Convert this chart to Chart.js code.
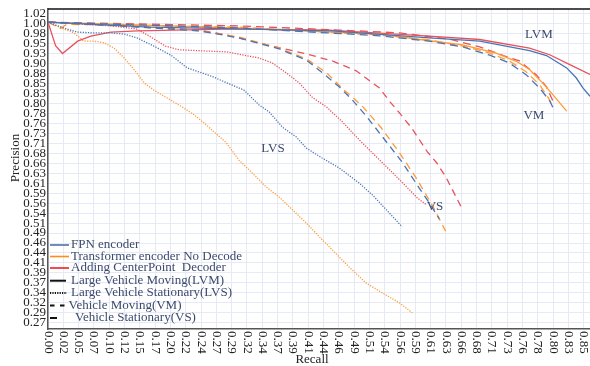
<!DOCTYPE html>
<html>
<head>
<meta charset="utf-8">
<script src="https://cdn.jsdelivr.net/npm/chart.js@4.4.0/dist/chart.umd.min.js"></script>
<style>
  html, body { margin: 0; padding: 0; background: #fff; }
  #wrap { width: 590px; height: 366px; }
</style>
</head>
<body>
<div id="wrap"><canvas id="myChart" width="590" height="366"></canvas></div>
<script>
// tick labels as printed on the axes
const recallTicks = ['0.00','0.02','0.05','0.07','0.10','0.12','0.15','0.17','0.20','0.22','0.24','0.27',
  '0.29','0.32','0.34','0.37','0.39','0.41','0.44','0.46','0.49','0.51','0.54','0.56','0.59','0.61',
  '0.63','0.66','0.68','0.71','0.73','0.76','0.78','0.80','0.83','0.85'];
const precisionTicks = ['0.27','0.29','0.32','0.34','0.37','0.39','0.41','0.44','0.46','0.49','0.51',
  '0.54','0.56','0.59','0.61','0.63','0.66','0.68','0.71','0.73','0.76','0.78','0.80','0.83','0.85',
  '0.88','0.90','0.93','0.95','0.98','1.00','1.02'];

const models = ['FPN encoder', 'Transformer encoder No Decode', 'Adding CenterPoint  Decoder'];
const classes = ['Large Vehicle Moving(LVM)', 'Large Vehicle Stationary(LVS)', 'Vehicle Moving(VM)', 'Vehicle Stationary(VS)'];

// [recall, precision]
const fpnLVM = [[0,1.00],[0.16,0.988],[0.30,0.984],[0.45,0.979],[0.605,0.962],[0.685,0.954],[0.764,0.931],
  [0.791,0.919],[0.823,0.889],[0.838,0.865],[0.849,0.840],[0.86,0.820],[0.87,0.79]];
const transLVM = [[0,1.00],[0.30,0.986],[0.526,0.971],[0.605,0.955],[0.658,0.945],[0.711,0.925],[0.743,0.905],
  [0.764,0.885],[0.785,0.852],[0.801,0.824],[0.823,0.784]];
const cpLVM = [[0,1.00],[0.012,0.943],[0.023,0.924],[0.047,0.954],[0.068,0.966],[0.10,0.976],[0.142,0.979],
  [0.30,0.984],[0.446,0.981],[0.605,0.966],[0.685,0.958],[0.764,0.937],[0.796,0.921],[0.828,0.897],
  [0.86,0.873],[0.87,0.862]];

const fpnLVS = [[0,1.00],[0.025,0.986],[0.046,0.976],[0.073,0.974],[0.10,0.974],[0.121,0.971],[0.141,0.962],
  [0.168,0.942],[0.195,0.920],[0.221,0.889],[0.259,0.869],[0.291,0.848],[0.311,0.835],[0.335,0.799],
  [0.351,0.782],[0.372,0.745],[0.394,0.721],[0.41,0.694],[0.435,0.670],[0.462,0.646],[0.494,0.609],
  [0.515,0.580],[0.537,0.544],[0.562,0.503]];
const transLVS = [[0,1.00],[0.021,0.986],[0.041,0.974],[0.057,0.954],[0.073,0.954],[0.089,0.950],[0.105,0.937],
  [0.121,0.913],[0.137,0.884],[0.153,0.852],[0.168,0.835],[0.189,0.816],[0.211,0.796],[0.232,0.775],
  [0.253,0.748],[0.283,0.707],[0.303,0.665],[0.324,0.634],[0.346,0.600],[0.367,0.575],[0.388,0.544],
  [0.41,0.512],[0.431,0.478],[0.451,0.447],[0.478,0.405],[0.505,0.366],[0.531,0.342],[0.558,0.318],[0.578,0.294]];
const cpLVS = [[0,1.00],[0.10,0.991],[0.14,0.984],[0.16,0.967],[0.186,0.942],[0.208,0.933],[0.251,0.930],
  [0.283,0.928],[0.311,0.920],[0.335,0.913],[0.356,0.901],[0.378,0.877],[0.399,0.852],[0.419,0.818],
  [0.442,0.794],[0.467,0.758],[0.494,0.714],[0.521,0.673],[0.547,0.634],[0.569,0.600],[0.586,0.573],[0.601,0.556]];

const fpnVM = [[0,1.00],[0.303,0.986],[0.526,0.967],[0.605,0.954],[0.658,0.940],[0.701,0.920],[0.732,0.901],
  [0.759,0.872],[0.78,0.840],[0.796,0.809],[0.804,0.784]];
const transVM = [[0,1.00],[0.02,0.985],[0.03,0.995],[0.303,0.988],[0.526,0.969],[0.605,0.957],[0.658,0.942],
  [0.701,0.925],[0.732,0.906],[0.759,0.879],[0.78,0.848],[0.794,0.816],[0.801,0.796]];
const cpVM = [[0,1.00],[0.303,0.991],[0.462,0.981],[0.558,0.974],[0.637,0.959],[0.685,0.940],[0.724,0.918],
  [0.748,0.906],[0.775,0.872],[0.791,0.843],[0.799,0.816],[0.804,0.799]];

const fpnVS = [[0,1.00],[0.113,0.991],[0.24,0.979],[0.303,0.962],[0.367,0.935],[0.41,0.908],[0.442,0.869],
  [0.462,0.843],[0.483,0.811],[0.505,0.772],[0.531,0.721],[0.562,0.660],[0.589,0.597],[0.605,0.561],[0.621,0.522]];
const transVS = [[0,1.00],[0.113,0.991],[0.24,0.979],[0.303,0.964],[0.367,0.937],[0.41,0.911],[0.442,0.877],
  [0.47,0.835],[0.497,0.799],[0.529,0.743],[0.558,0.682],[0.584,0.622],[0.611,0.552],[0.634,0.483]];
const cpVS = [[0,1.00],[0.113,0.993],[0.24,0.981],[0.283,0.969],[0.315,0.957],[0.356,0.942],[0.41,0.923],
  [0.451,0.906],[0.489,0.882],[0.526,0.840],[0.543,0.806],[0.558,0.779],[0.577,0.743],[0.602,0.685],
  [0.617,0.658],[0.632,0.622],[0.642,0.592],[0.658,0.544]];

// label text drawn inside the plot
const curveLabels = [['LVM',0.779,0.969],['VM',0.771,0.773],['LVS',0.357,0.693],['VS',0.614,0.551]];

const lineColors = ['#4a74b4', '#ff9a35', '#e8525c'];
const legendColors = ['#4c72b0', '#ff8c1a', '#ee1c25'];
const dashes = [[], [1.2, 1.4], [8, 5], [7, 5]];

const series = [
  [fpnLVM, fpnLVS, fpnVM, fpnVS],
  [transLVM, transLVS, transVM, transVS],
  [cpLVM, cpLVS, cpVM, cpVS]
];

const datasets = [];
series.forEach((group, m) => {
  group.forEach((pts, c) => {
    datasets.push({
      label: models[m] + ' ' + classes[c],
      data: pts.map(p => ({x: p[0], y: p[1]})),
      borderColor: lineColors[m],
      borderWidth: 1.3,
      borderDash: dashes[c],
      pointRadius: 0,
      tension: 0,
      fill: false
    });
  });
});

function spread(labels) {
  const a = parseFloat(labels[0]), b = parseFloat(labels[labels.length - 1]);
  return labels.map((t, i) => a + i * (b - a) / (labels.length - 1));
}
const recallVals = spread(recallTicks);
const precisionVals = spread(precisionTicks);

const serif = '"Liberation Serif", "Times New Roman", serif';
const textBlue = '#3c4a6e';

const overlay = {
  id: 'overlay',
  afterDraw(chart) {
    const ctx = chart.ctx, a = chart.chartArea, x = chart.scales.x, y = chart.scales.y;
    ctx.save();
    // top frame
    ctx.strokeStyle = '#111';
    ctx.lineWidth = 1.5;
    ctx.beginPath();
    ctx.moveTo(a.left, a.top);
    ctx.lineTo(a.right, a.top);
    ctx.stroke();

    // recall tick labels, rotated clockwise
    ctx.font = '13px ' + serif;
    ctx.fillStyle = '#222';
    ctx.textAlign = 'left';
    ctx.textBaseline = 'middle';
    recallTicks.forEach((t, i) => {
      ctx.save();
      ctx.translate(x.getPixelForValue(recallVals[i]), a.bottom + 2);
      ctx.rotate(Math.PI / 2);
      ctx.fillText(t, 0, 0);
      ctx.restore();
    });

    // axis titles
    ctx.textAlign = 'center';
    ctx.fillStyle = '#222';
    ctx.fillText('Recall', 312, 360);
    ctx.save();
    ctx.translate(15.5, 158);
    ctx.rotate(-Math.PI / 2);
    ctx.fillText('Precision', 0, 0);
    ctx.restore();

    // curve labels
    ctx.fillStyle = textBlue;
    curveLabels.forEach(l => {
      ctx.fillText(l[0], x.getPixelForValue(l[1]), y.getPixelForValue(l[2]));
    });

    // legend
    const rows = [245, 256.5, 268, 280.7, 293, 305.5, 318];
    ctx.textAlign = 'left';
    ctx.lineWidth = 1.6;
    models.forEach((m, i) => {
      ctx.strokeStyle = legendColors[i];
      ctx.setLineDash([]);
      ctx.beginPath(); ctx.moveTo(50, rows[i]); ctx.lineTo(69, rows[i]); ctx.stroke();
      ctx.fillText(m, 71, rows[i]);
    });
    ctx.strokeStyle = '#111';
    ctx.lineWidth = 2;
    const samples = [[[], 50, 66], [[1.2, 1.2], 50, 67], [[4.5, 5.5], 50, 65], [[], 50, 57]];
    const textX = [71, 71, 68.5, 75];
    classes.forEach((c, i) => {
      const r = rows[i + 3];
      ctx.setLineDash(samples[i][0]);
      ctx.beginPath(); ctx.moveTo(samples[i][1], r); ctx.lineTo(samples[i][2], r); ctx.stroke();
      ctx.fillText(c, textX[i], r);
    });
    ctx.restore();
  }
};

const ctx = document.getElementById('myChart').getContext('2d');
const chart = new Chart(ctx, {
  type: 'line',
  data: { datasets: datasets },
  options: {
    responsive: false,
    animation: false,
    events: [],
    layout: { padding: { top: 9, left: 0, right: 0, bottom: 0 } },
    plugins: { legend: { display: false }, tooltip: { enabled: false } },
    scales: {
      x: {
        type: 'linear',
        min: 0,
        max: 0.86,
        afterBuildTicks: s => { s.ticks = recallVals.map(v => ({value: v})); },
        afterFit: s => { s.height = 37; },
        ticks: { display: false, autoSkip: false },
        grid: { color: '#e6eaf4', lineWidth: 1, drawTicks: false },
        border: { color: '#555', width: 1.5 }
      },
      y: {
        type: 'linear',
        min: 0.2547,
        max: 1.0321,
        afterBuildTicks: s => { s.ticks = precisionVals.map(v => ({value: v})); },
        afterFit: s => { s.width = 48; },
        ticks: {
          autoSkip: false,
          padding: 2,
          color: '#222',
          font: { family: serif, size: 13, lineHeight: 1 },
          callback: (v, i) => precisionTicks[i]
        },
        grid: { color: '#e6eaf4', lineWidth: 1, drawTicks: false },
        border: { color: '#555', width: 1.5 }
      }
    }
  },
  plugins: [overlay]
});
</script>
</body>
</html>
